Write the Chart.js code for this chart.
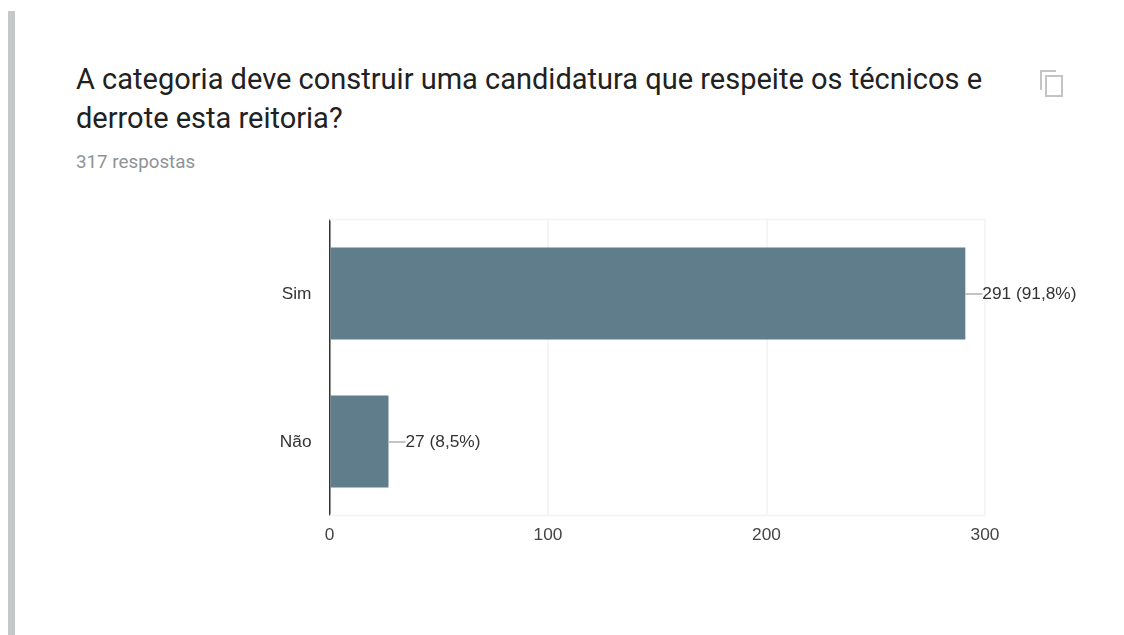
<!DOCTYPE html>
<html lang="pt">
<head>
<meta charset="utf-8">
<title>A categoria deve construir uma candidatura</title>
<script src="https://cdn.jsdelivr.net/npm/chart.js@4"></script>
<style>
  html, body { margin: 0; padding: 0; background: #fff; }
  body { width: 1124px; height: 635px; position: relative; overflow: hidden; }
  #edge { position: absolute; left: 8px; top: 11px; width: 7px; height: 624px; background: #c4c8c9; }
  #question { position: absolute; left: 76px; top: 60px; width: 1000px; margin: 0;
    font: 400 29px/39px Roboto, sans-serif; color: #212121; white-space: nowrap; }
  #count { position: absolute; left: 76px; top: 152px; margin: 0;
    font: 400 18.8px/20px Roboto, sans-serif; color: #8f9396; }
  #copy { position: absolute; left: 1039px; top: 69px; }
  #box { position: absolute; left: 0; top: 0; width: 1124px; height: 635px; }
</style>
</head>
<body>
<div id="edge"></div>
<h1 id="question">A categoria deve construir uma candidatura que respeite os técnicos e<br>derrote esta reitoria?</h1>
<p id="count">317 respostas</p>
<svg id="copy" width="26" height="30" viewBox="0 0 26 30" fill="none" stroke="#c4c4c4" stroke-width="2">
  <path d="M17 2H2V21"/>
  <rect x="7" y="7" width="16" height="20"/>
</svg>
<div id="box"><canvas id="chart" width="1124" height="635"></canvas></div>
<script>
const categories = ['Sim', 'Não'];
const responses = [291, 27];
const valueLabels = ['291 (91,8%)', '27 (8,5%)'];
const valueTicks = [0, 100, 200, 300];

// Leader line and "count (share)" text to the right of each bar
const barCallouts = {
  id: 'barCallouts',
  afterDatasetsDraw(chart) {
    const { ctx } = chart;
    chart.getDatasetMeta(0).data.forEach((bar, i) => {
      const y = Math.round(bar.y);
      ctx.save();
      ctx.strokeStyle = '#b0b0b0';
      ctx.lineWidth = 1.5;
      ctx.beginPath();
      ctx.moveTo(bar.x, y);
      ctx.lineTo(bar.x + 17, y);
      ctx.stroke();
      ctx.fillStyle = '#333333';
      ctx.font = '17.3px "Liberation Sans", Arial, sans-serif';
      ctx.textAlign = 'left';
      ctx.textBaseline = 'middle';
      ctx.fillText(valueLabels[i], bar.x + 17, y);
      ctx.restore();
    });
  }
};

// Faint frame lines along the top and bottom of the plot area
const plotFrame = {
  id: 'plotFrame',
  beforeDatasetsDraw(chart) {
    const { ctx, chartArea: a } = chart;
    ctx.save();
    ctx.strokeStyle = '#f5f5f5';
    ctx.lineWidth = 2;
    ctx.beginPath();
    ctx.moveTo(a.left, a.top);
    ctx.lineTo(a.right + 1, a.top);
    ctx.moveTo(a.left, a.bottom);
    ctx.lineTo(a.right + 1, a.bottom);
    ctx.stroke();
    ctx.restore();
  }
};

new Chart(document.getElementById('chart'), {
  type: 'bar',
  data: {
    labels: categories,
    datasets: [{
      data: responses,
      backgroundColor: '#607d8b',
      barPercentage: 0.62,
      categoryPercentage: 1
    }]
  },
  options: {
    indexAxis: 'y',
    responsive: false,
    animation: false,
    layout: { padding: { top: 219.5, right: 139, left: 0, bottom: 0 } },
    plugins: { legend: { display: false }, tooltip: { enabled: false } },
    scales: {
      x: {
        min: 0,
        max: 300,
        afterBuildTicks(axis) { axis.ticks = valueTicks.map(value => ({ value })); },
        afterFit(axis) { axis.height = 119.5; },
        grid: { color: '#f5f5f5', lineWidth: 2, drawTicks: false },
        border: { display: false },
        ticks: {
          color: '#444444',
          padding: 9,
          maxRotation: 0,
          font: { family: '"Liberation Sans", Arial, sans-serif', size: 17.3 }
        }
      },
      y: {
        afterFit(axis) { axis.width = 329.5; },
        grid: { display: false, drawTicks: false },
        border: { display: true, color: '#333333', width: 1.5 },
        ticks: {
          color: '#333333',
          padding: 18,
          labelOffset: 1,
          font: { family: '"Liberation Sans", Arial, sans-serif', size: 17.3 }
        }
      }
    }
  },
  plugins: [barCallouts, plotFrame]
});
</script>
</body>
</html>
